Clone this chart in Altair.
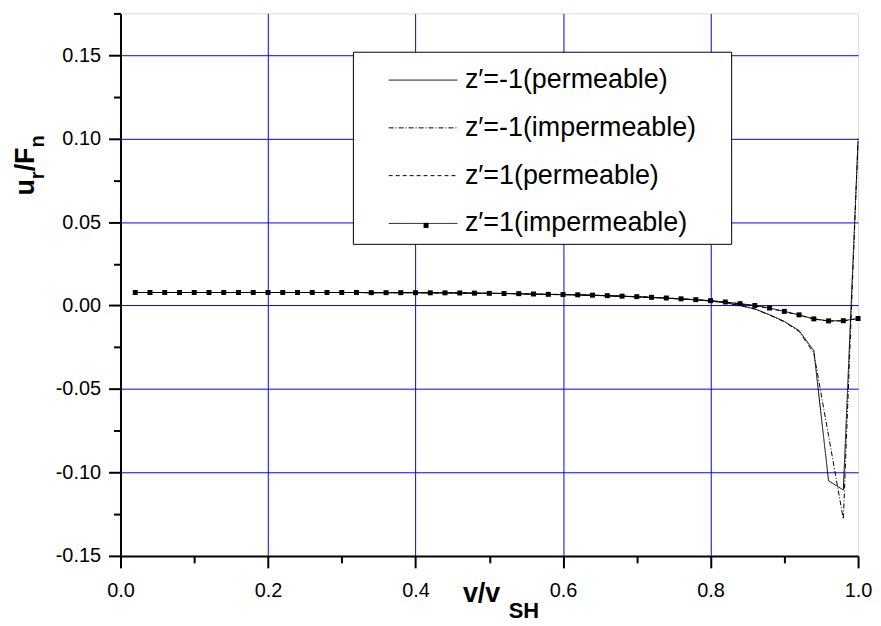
import altair as alt
import pandas as pd

# ---------------- data ----------------
v = [0.02, 0.04, 0.06, 0.08, 0.10, 0.12, 0.14, 0.16, 0.18, 0.20,
     0.22, 0.24, 0.26, 0.28, 0.30, 0.32, 0.34, 0.36, 0.38, 0.40,
     0.42, 0.44, 0.46, 0.48, 0.50, 0.52, 0.54, 0.56, 0.58, 0.60,
     0.62, 0.64, 0.66, 0.68, 0.70, 0.72, 0.74, 0.76, 0.78, 0.80,
     0.82, 0.84, 0.86, 0.88, 0.90, 0.92, 0.94, 0.96, 0.98, 1.00]

z1_imp = [0.0078, 0.0078, 0.0078, 0.0078, 0.0078, 0.0078, 0.0078, 0.0078, 0.0078, 0.0078,
          0.0078, 0.0078, 0.0078, 0.0078, 0.0078, 0.0078, 0.0077, 0.0077, 0.0077, 0.0077,
          0.0076, 0.0076, 0.0075, 0.0074, 0.0073, 0.0072, 0.0071, 0.0069, 0.0067, 0.0066,
          0.0064, 0.0062, 0.0059, 0.0056, 0.0053, 0.0049, 0.0045, 0.0040, 0.0035, 0.0029,
          0.0021, 0.0011, 0.0000, -0.0015, -0.0035, -0.0056, -0.0080, -0.0092, -0.0091, -0.0078]

z1_perm = [0.0078, 0.0078, 0.0078, 0.0078, 0.0078, 0.0078, 0.0078, 0.0078, 0.0078, 0.0078,
           0.0078, 0.0078, 0.0078, 0.0078, 0.0078, 0.0078, 0.0077, 0.0077, 0.0077, 0.0077,
           0.0076, 0.0076, 0.0075, 0.0074, 0.0073, 0.0072, 0.0071, 0.0069, 0.0067, 0.0066,
           0.0064, 0.0062, 0.0059, 0.0056, 0.0053, 0.0049, 0.0045, 0.0040, 0.0034, 0.0028,
           0.0020, 0.0010, -0.0002, -0.0017, -0.0037, -0.0058, -0.0081, -0.0093, -0.0092, -0.0079]

zm1_perm = [0.0078, 0.0078, 0.0078, 0.0078, 0.0078, 0.0078, 0.0078, 0.0078, 0.0078, 0.0078,
            0.0078, 0.0078, 0.0078, 0.0078, 0.0078, 0.0078, 0.0077, 0.0077, 0.0077, 0.0077,
            0.0076, 0.0076, 0.0075, 0.0074, 0.0073, 0.0072, 0.0070, 0.0068, 0.0066, 0.0065,
            0.0063, 0.0061, 0.0058, 0.0055, 0.0052, 0.0048, 0.0044, 0.0039, 0.0034, 0.0027,
            0.0016, 0.0001, -0.0020, -0.0055, -0.0095, -0.0150, -0.0270, -0.1050, -0.1105, 0.0985]

zm1_imp = [0.0078, 0.0078, 0.0078, 0.0078, 0.0078, 0.0078, 0.0078, 0.0078, 0.0078, 0.0078,
           0.0078, 0.0078, 0.0078, 0.0078, 0.0078, 0.0078, 0.0077, 0.0077, 0.0077, 0.0077,
           0.0076, 0.0076, 0.0075, 0.0074, 0.0073, 0.0072, 0.0070, 0.0068, 0.0066, 0.0065,
           0.0063, 0.0061, 0.0058, 0.0055, 0.0052, 0.0048, 0.0044, 0.0039, 0.0034, 0.0027,
           0.0016, 0.0000, -0.0022, -0.0057, -0.0098, -0.0155, -0.0285, -0.0780, -0.1280, 0.1000]

labels = ["z\u2032=-1(permeable)", "z\u2032=-1(impermeable)",
          "z\u2032=1(permeable)", "z\u2032=1(impermeable)"]

x_ticks = [0.0, 0.1, 0.2, 0.3, 0.4, 0.5, 0.6, 0.7, 0.8, 0.9, 1.0]
y_ticks = [-0.15, -0.125, -0.10, -0.075, -0.05, -0.025, 0.0, 0.025,
           0.05, 0.075, 0.10, 0.125, 0.15, 0.175]

rows = []
for lab, vals in zip(labels, [zm1_perm, zm1_imp, z1_perm, z1_imp]):
    for xv, yv in zip(v, vals):
        rows.append({"v": xv, "u": yv, "series": lab})
df = pd.DataFrame(rows)

# ---------------- styling ----------------
FONT = "Liberation Sans"
dashes = [[1, 0], [5, 2, 1, 2], [4, 3], [1, 0]]

major_x = "abs(datum.value*5-round(datum.value*5))<1e-6"
major_y = "abs(datum.value*20-round(datum.value*20))<1e-6"

xs = alt.Scale(domain=[0, 1], nice=False, zero=False)
ys = alt.Scale(domain=[-0.15, 0.175], nice=False, zero=False)

x_axis = alt.Axis(
    values=x_ticks,
    labelExpr=major_x + " ? format(datum.value, '.1f') : ''",
    tickSize={"condition": {"test": major_x, "value": 12}, "value": 7},
    gridOpacity={"condition": {"test": major_x + " && datum.value > 0.01 && datum.value < 0.99",
                               "value": 1}, "value": 0},
    grid=True, gridColor="#0000ff", gridWidth=1,
    tickWidth=2, tickColor="black", domainColor="black", domainWidth=2,
    labelFont=FONT, labelFontSize=20, labelColor="black", labelPadding=13,
    labelFlush=False, labelOverlap=False, title=None,
)
y_axis = alt.Axis(
    values=y_ticks,
    labelExpr=major_y + " ? (datum.value < -1e-9 ? '-' : '') + format(abs(datum.value), '.2f') : ''",
    tickSize={"condition": {"test": major_y, "value": 12}, "value": 7},
    gridOpacity={"condition": {"test": major_y + " && datum.value > -0.14 && datum.value < 0.17",
                               "value": 1}, "value": 0},
    grid=True, gridColor="#0000ff", gridWidth=1,
    tickWidth=2, tickColor="black", domainColor="black", domainWidth=2,
    labelFont=FONT, labelFontSize=20, labelColor="black", labelPadding=8,
    labelFlush=False, labelOverlap=False, title=None,
)

base = alt.Chart(df)

lines = base.mark_line(color="black", strokeWidth=1).encode(
    x=alt.X("v:Q", scale=xs, axis=x_axis),
    y=alt.Y("u:Q", scale=ys, axis=y_axis),
    detail="series:N",
    strokeDash=alt.StrokeDash(
        "series:N",
        scale=alt.Scale(domain=labels, range=dashes),
        legend=alt.Legend(
            orient="none", legendX=269, legendY=32, padding=0,
            symbolType="stroke", symbolSize=4761, symbolStrokeWidth=1,
            symbolStrokeColor="black",
            labelFont=FONT, labelFontSize=27, labelColor="black",
            labelOffset=7, labelLimit=600, rowPadding=-3.3, title=None,
        ),
    ),
)

# square markers for z'=1 (impermeable); their shape legend adds the marker to the legend entry
points = base.transform_filter(
    alt.datum.series == labels[3]
).mark_point(size=25, color="black", opacity=1, filled=True).encode(
    x=alt.X("v:Q", scale=xs),
    y=alt.Y("u:Q", scale=ys),
    shape=alt.Shape(
        "series:N",
        scale=alt.Scale(domain=[labels[3]], range=["square"]),
        legend=alt.Legend(
            orient="none", legendX=302, legendY=208, padding=0,
            symbolSize=25, symbolFillColor="black", symbolStrokeWidth=0,
            symbolOpacity=1, labelExpr="''", title=None,
        ),
    ),
)

one = pd.DataFrame({"k": [0]})

legend_box = alt.Chart(one).mark_rect(
    fill="white", stroke="black", strokeWidth=1
).encode(
    x=alt.value(234), x2=alt.value(614), y=alt.value(39), y2=alt.value(232)
)


def txt(s, x, y, size, angle=0):
    return alt.Chart(one).mark_text(
        text=s, font=FONT, fontSize=size, fontWeight="bold", color="black",
        align="left", baseline="alphabetic", angle=angle,
    ).encode(x=alt.value(x), y=alt.value(y))


titles = [
    txt("v/v", 344, 591, 27),
    txt("SH", 390, 607, 22),
    txt("u", -87, 183, 27, 270),
    txt("r", -77, 166.5, 20, 270),
    txt("/F", -87, 158.7, 27, 270),
    txt("n", -77, 134.7, 20, 270),
]

chart = alt.layer(lines, points, legend_box, *titles).properties(
    width=741, height=545,
    autosize=alt.AutoSizeParams(type="none"),
    padding={"left": 113, "top": 4, "right": 15, "bottom": 68},
).configure_view(
    stroke="black", strokeWidth=2
).configure(background="white")

chart.save("out.html", embed_options={"renderer": "svg", "actions": False})
